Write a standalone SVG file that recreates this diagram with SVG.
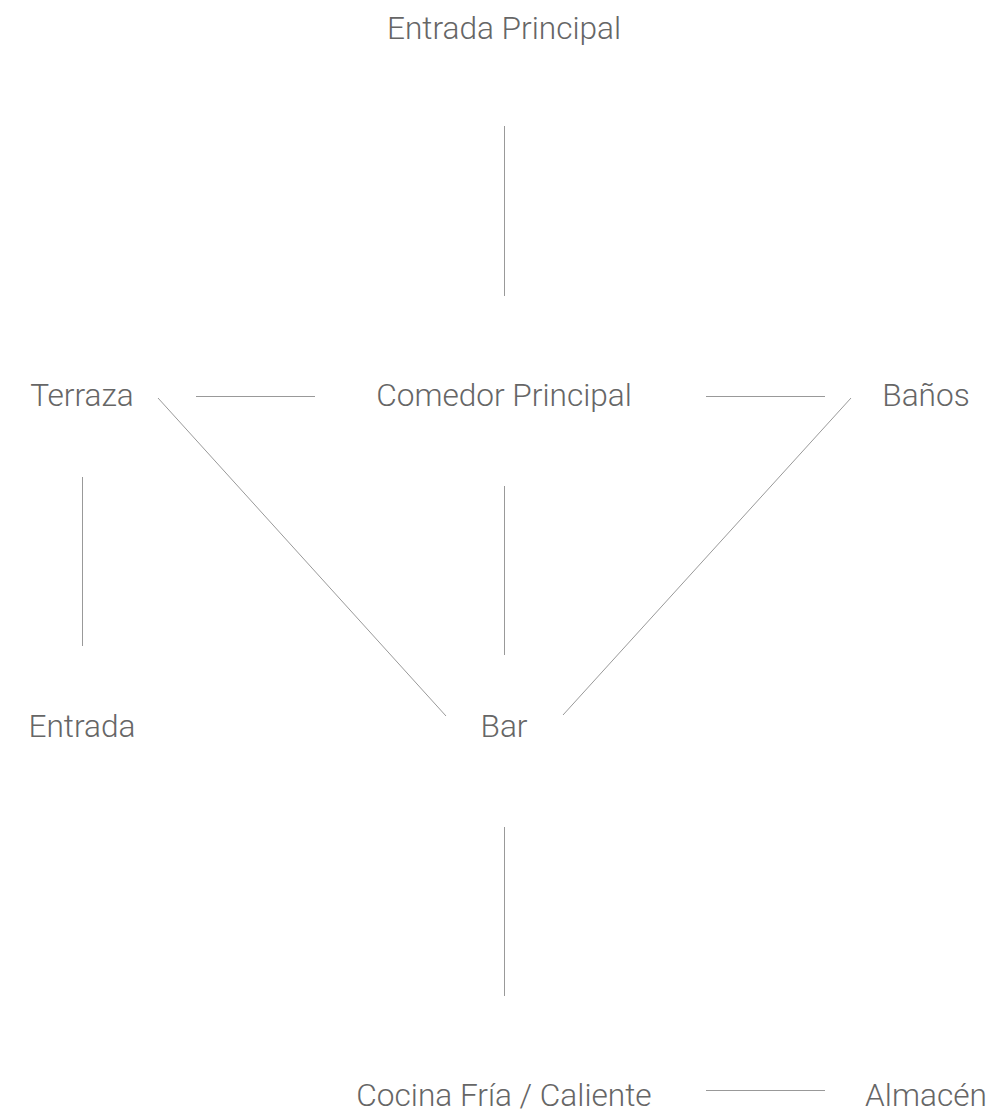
<svg xmlns="http://www.w3.org/2000/svg" width="1000" height="1113" viewBox="0 0 1000 1113">
<style>
text{font-family:"Roboto Light",Roboto,"Liberation Sans",sans-serif;font-weight:300;font-size:31.6px;fill:#666;text-anchor:middle}
line{stroke:#999;stroke-width:1}
</style>
<rect width="1000" height="1113" fill="#fff"/>
<g id="connectors">
<line x1="504.5" y1="126" x2="504.5" y2="296"/>
<line x1="196" y1="396.5" x2="315" y2="396.5"/>
<line x1="706" y1="396.5" x2="825" y2="396.5"/>
<line x1="158" y1="398" x2="446" y2="716"/>
<line x1="851" y1="398" x2="563" y2="715"/>
<line x1="82.5" y1="477" x2="82.5" y2="646"/>
<line x1="504.5" y1="486" x2="504.5" y2="655"/>
<line x1="504.5" y1="827" x2="504.5" y2="996"/>
<line x1="706" y1="1090.5" x2="825" y2="1090.5"/>
</g>
<g id="entrada-principal"><text x="504" y="39">Entrada Principal</text></g>
<g id="terraza"><text x="82" y="406">Terraza</text></g>
<g id="comedor-principal"><text x="504" y="406">Comedor Principal</text></g>
<g id="banos"><text x="926" y="406">Baños</text></g>
<g id="entrada"><text x="82" y="737">Entrada</text></g>
<g id="bar"><text x="504" y="737">Bar</text></g>
<g id="cocina"><text x="504" y="1106">Cocina Fría / Caliente</text></g>
<g id="almacen"><text x="926" y="1106">Almacén</text></g>
</svg>
